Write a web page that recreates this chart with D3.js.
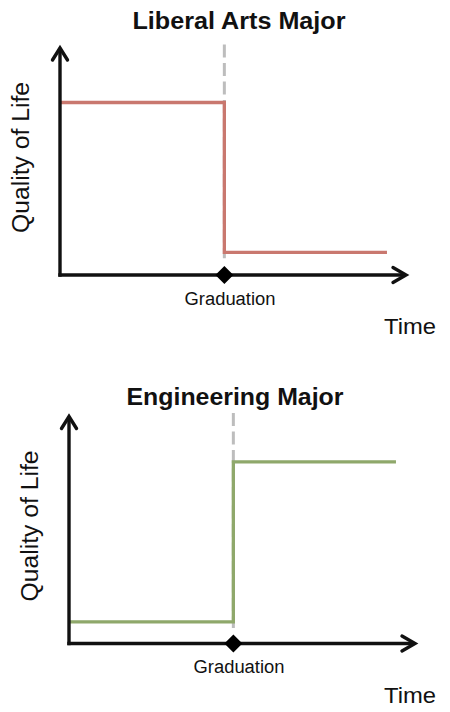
<!DOCTYPE html>
<html>
<head>
<meta charset="utf-8">
<script src="https://cdn.jsdelivr.net/npm/d3@7"></script>
<style>
  html, body { margin: 0; padding: 0; background: #fff; }
  svg { display: block; }
  text { font-family: "Liberation Sans", Arial, Helvetica, sans-serif; fill: #111; }
</style>
</head>
<body>
<svg id="chart" width="450" height="712"></svg>
<script>
// ---- data ----
const chartTitles = ["Liberal Arts Major", "Engineering Major"];
const xLabel = "Time";
const yLabel = "Quality of Life";
const eventLabel = "Graduation";
const graduationTime = 47.5;          // time (0-100) of graduation
const stepTimes = [0, 47.5, 94.5];    // step change points
const liberalArtsQuality = [76, 10, 10];
const engineeringQuality = [9.5, 80, 80];
const seriesValues = [liberalArtsQuality, engineeringQuality];
const lineColors = ["#c9786f", "#8fa86b"];

// ---- drawing ----
const svg = d3.select("#chart");

const panels = [
  { ox: 60, oy: 275, titleX: 239, titleY: 29, titleW: 213, yLabX: 28.5, gradX: 230, gradY: 305, timeY: 334 },
  { ox: 69, oy: 643.5, titleX: 235, titleY: 405, titleW: 217, yLabX: 37.5, gradX: 239, gradY: 673, timeY: 703 }
];
const plotW = 346, plotH = 227;

panels.forEach((p, i) => {
  const g = svg.append("g");
  const x = d3.scaleLinear().domain([0, 100]).range([p.ox, p.ox + plotW]);
  const y = d3.scaleLinear().domain([0, 100]).range([p.oy, p.oy - plotH]);
  const vals = seriesValues[i];

  // title
  g.append("text")
    .attr("x", p.titleX).attr("y", p.titleY)
    .attr("text-anchor", "middle")
    .attr("font-weight", "bold")
    .attr("font-size", 23.5)
    .attr("textLength", p.titleW)
    .attr("lengthAdjust", "spacingAndGlyphs")
    .text(chartTitles[i]);

  // dashed graduation guide
  g.append("line")
    .attr("x1", x(graduationTime)).attr("x2", x(graduationTime))
    .attr("y1", y(101.5)).attr("y2", y(Math.min(...vals)) + 6)
    .attr("stroke", "#bdbdbd")
    .attr("stroke-width", 3)
    .attr("stroke-dasharray", "13 5.5");

  // step line
  const line = d3.line()
    .x((d, j) => x(stepTimes[j]) + (j === 0 ? 1 : 0))
    .y(d => y(d))
    .curve(d3.curveStepAfter);
  g.append("path")
    .datum(vals)
    .attr("d", line)
    .attr("fill", "none")
    .attr("stroke", lineColors[i])
    .attr("stroke-width", 3.3);

  // axes
  g.append("line")
    .attr("x1", x(0)).attr("x2", x(0))
    .attr("y1", y(0) + 1.7).attr("y2", y(100) + 1)
    .attr("stroke", "#111").attr("stroke-width", 3.4);
  g.append("line")
    .attr("x1", x(0) - 1.7).attr("x2", x(100) - 1)
    .attr("y1", y(0)).attr("y2", y(0))
    .attr("stroke", "#111").attr("stroke-width", 3.4);

  // arrow heads (open chevrons)
  const tipY = y(100), tipX = x(100);
  g.append("path")
    .attr("d", `M${x(0) - 7.5},${tipY + 12} L${x(0)},${tipY} L${x(0) + 7.5},${tipY + 12}`)
    .attr("fill", "none").attr("stroke", "#111").attr("stroke-width", 3.4)
    .attr("stroke-linecap", "round").attr("stroke-linejoin", "miter");
  g.append("path")
    .attr("d", `M${tipX - 13},${y(0) - 7.5} L${tipX},${y(0)} L${tipX - 13},${y(0) + 7.5}`)
    .attr("fill", "none").attr("stroke", "#111").attr("stroke-width", 3.4)
    .attr("stroke-linecap", "round").attr("stroke-linejoin", "miter");

  // graduation diamond
  const gx = x(graduationTime), gy = y(0), r = 9;
  g.append("path")
    .attr("d", `M${gx},${gy - r} L${gx + r},${gy} L${gx},${gy + r} L${gx - r},${gy} Z`)
    .attr("fill", "#000");

  // graduation label
  g.append("text")
    .attr("x", p.gradX).attr("y", p.gradY)
    .attr("text-anchor", "middle")
    .attr("font-size", 18)
    .attr("textLength", 91)
    .attr("lengthAdjust", "spacingAndGlyphs")
    .text(eventLabel);

  // x label
  g.append("text")
    .attr("x", 436).attr("y", p.timeY)
    .attr("text-anchor", "end")
    .attr("font-size", 22.5)
    .attr("textLength", 52)
    .attr("lengthAdjust", "spacingAndGlyphs")
    .text(xLabel);

  // y label
  const cy = p.oy - plotH / 2 - 4;
  g.append("text")
    .attr("transform", `translate(${p.yLabX},${cy}) rotate(-90)`)
    .attr("text-anchor", "middle")
    .attr("font-size", 23)
    .attr("textLength", 151)
    .attr("lengthAdjust", "spacingAndGlyphs")
    .text(yLabel);
});
</script>
</body>
</html>
